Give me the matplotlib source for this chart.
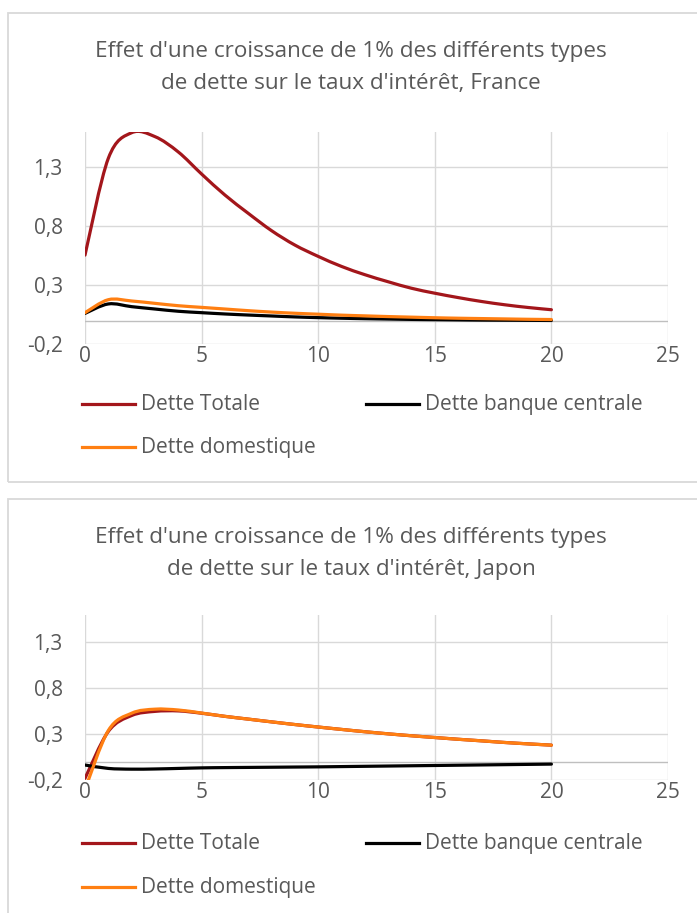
import matplotlib.pyplot as plt
from matplotlib.path import Path
from matplotlib.patches import PathPatch, Rectangle
from matplotlib.lines import Line2D

plt.rcParams["font.family"] = ["Open Sans", "DejaVu Sans"]

# horizon (periods after the shock)
periods = list(range(21))

# France
fr_totale = [0.556, 1.376, 1.593, 1.560, 1.430, 1.243, 1.065, 0.910, 0.763, 0.641, 0.545,
             0.460, 0.390, 0.330, 0.275, 0.233, 0.196, 0.163, 0.135, 0.112, 0.093]
fr_banque = [0.062, 0.142, 0.119, 0.099, 0.080, 0.068, 0.057, 0.048, 0.040, 0.032, 0.026,
             0.021, 0.017, 0.014, 0.011, 0.009, 0.007, 0.005, 0.004, 0.003, 0.002]
fr_domest = [0.068, 0.178, 0.167, 0.147, 0.127, 0.113, 0.099, 0.085, 0.073, 0.063, 0.055,
             0.047, 0.041, 0.035, 0.030, 0.025, 0.021, 0.018, 0.015, 0.012, 0.010]

# Japon
jp_totale = [-0.180, 0.330, 0.503, 0.548, 0.553, 0.528, 0.494, 0.464, 0.434, 0.405, 0.378,
             0.352, 0.327, 0.304, 0.283, 0.264, 0.245, 0.228, 0.210, 0.195, 0.181]
jp_banque = [-0.035, -0.072, -0.080, -0.078, -0.072, -0.066, -0.063, -0.061, -0.059, -0.057, -0.055,
             -0.052, -0.049, -0.046, -0.043, -0.040, -0.037, -0.034, -0.031, -0.028, -0.025]
jp_domest = [-0.300, 0.340, 0.528, 0.572, 0.563, 0.530, 0.494, 0.464, 0.434, 0.405, 0.378,
             0.352, 0.327, 0.304, 0.283, 0.264, 0.245, 0.228, 0.210, 0.195, 0.181]

series_names = ["Dette Totale", "Dette banque centrale", "Dette domestique"]
colors = ["#A3161B", "#000000", "#FF7F12"]
yticks = [-0.2, 0.3, 0.8, 1.3]
xticks = [0, 5, 10, 15, 20, 25]
titles = ["Effet d'une croissance de 1% des différents types\nde dette sur le taux d'intérêt, France",
          "Effet d'une croissance de 1% des différents types\nde dette sur le taux d'intérêt, Japon"]

TXT = "#595959"
GRID = "#d9d9d9"
W, H = 697, 913


def smooth_path(x, y):
    """Excel-like smoothed line: Catmull-Rom segments as cubic Beziers."""
    verts, codes = [(x[0], y[0])], [Path.MOVETO]
    n = len(x)
    for i in range(n - 1):
        xa, ya = (x[i - 1], y[i - 1]) if i > 0 else (x[i], y[i])
        xb, yb = (x[i + 2], y[i + 2]) if i + 2 < n else (x[i + 1], y[i + 1])
        c1 = (x[i] + (x[i + 1] - xa) / 6, y[i] + (y[i + 1] - ya) / 6)
        c2 = (x[i + 1] - (xb - x[i]) / 6, y[i + 1] - (yb - y[i]) / 6)
        verts += [c1, c2, (x[i + 1], y[i + 1])]
        codes += [Path.CURVE4] * 3
    return Path(verts, codes)


def fx(px):
    return px / W


def fy(py):
    return 1 - py / H


fig = plt.figure(figsize=(W / 100, H / 100), dpi=100)

# panel frames (top, bottom) in pixel units
for top, bot in [(13, 481.7), (499.3, 940)]:
    fig.patches.append(Rectangle((fx(7.5), fy(bot)), fx(720) - fx(7.5), fy(top) - fy(bot),
                                 transform=fig.transFigure, fill=False,
                                 edgecolor=GRID, lw=1.3))

panels = [
    dict(data=[fr_totale, fr_banque, fr_domest], y_top=131.9, y_bot=344.3,
         title_y=(52, 83), leg_y=(404, 447), title=titles[0]),
    dict(data=[jp_totale, jp_banque, jp_domest], y_top=614.6, y_bot=780.2,
         title_y=(537, 570), leg_y=(843, 887), title=titles[1]),
]

for p in panels:
    ax = fig.add_axes([fx(85), fy(p["y_bot"]), fx(668) - fx(85), (p["y_bot"] - p["y_top"]) / H])
    for vals, col in zip(p["data"], colors):
        ax.add_patch(PathPatch(smooth_path(periods, vals), fill=False, edgecolor=col,
                               lw=2.3, capstyle="round", joinstyle="round", zorder=3))
    ax.set_xlim(0, 25)
    ax.set_ylim(-0.2, 1.6)
    ax.set_xticks(xticks)
    ax.set_yticks(yticks)
    ax.set_yticklabels([f"{v:.1f}".replace(".", ",") for v in yticks])
    ax.grid(True, color=GRID, lw=1.0, zorder=0)
    ax.axhline(0, color="#bfbfbf", lw=1.0, zorder=1)
    ax.tick_params(length=0, labelsize=15, colors=TXT)
    ax.tick_params(axis="y", pad=16)
    ax.tick_params(axis="x", pad=1)
    for s in ax.spines.values():
        s.set_visible(False)
    ax.set_axisbelow(True)

    l1, l2 = p["title"].split("\n")
    for line, ty in zip((l1, l2), p["title_y"]):
        fig.text(fx(351), fy(ty), line, ha="center", va="center", fontsize=16.2, color=TXT)

    # legend (two columns, Excel style)
    entries = [(82, p["leg_y"][0]), (366, p["leg_y"][0]), (82, p["leg_y"][1])]
    for (lx, ly), name, col in zip(entries, series_names, colors):
        fig.add_artist(Line2D([fx(lx), fx(lx + 53)], [fy(ly), fy(ly)], color=col, lw=2.3,
                              transform=fig.transFigure))
        fig.text(fx(lx + 59), fy(ly), name, ha="left", va="center", fontsize=15, color=TXT)

fig.savefig("out.png", dpi=100)
